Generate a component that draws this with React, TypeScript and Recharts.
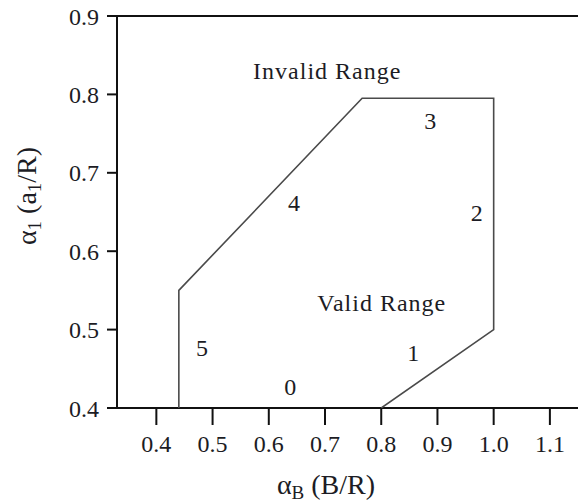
import { ComposedChart, Scatter, XAxis, YAxis, ReferenceLine } from 'recharts';

// Boundary of the valid range (walked in order, closed at the axis)
const boundary = [
  { x: 0.44, y: 0.4 },
  { x: 0.44, y: 0.55 },
  { x: 0.766, y: 0.795 },
  { x: 1.0, y: 0.795 },
  { x: 1.0, y: 0.5 },
  { x: 0.8, y: 0.4 },
];

// Region names and edge numbers
const regionLabels = [
  { x: 0.704, y: 0.83, text: 'Invalid Range' },
  { x: 0.801, y: 0.534, text: 'Valid Range' },
];
const edgeLabels = [
  { x: 0.638, y: 0.427, text: '0' },
  { x: 0.857, y: 0.47, text: '1' },
  { x: 0.97, y: 0.649, text: '2' },
  { x: 0.887, y: 0.766, text: '3' },
  { x: 0.645, y: 0.661, text: '4' },
  { x: 0.481, y: 0.476, text: '5' },
];

const xTicks = [0.4, 0.5, 0.6, 0.7, 0.8, 0.9, 1.0, 1.1];
const yTicks = [0.4, 0.5, 0.6, 0.7, 0.8, 0.9];

const FONT = 'Liberation Serif';
const INK = '#1c1c24';

const tickStyle = { fill: INK, fontSize: 24, fontFamily: FONT };

const Empty = () => <g />;

const textShape = (size: number, spacing: number) => (p: any) => (
  <text
    x={p.cx}
    y={p.cy}
    textAnchor="middle"
    dominantBaseline="central"
    fontFamily={FONT}
    fontSize={size}
    letterSpacing={spacing}
    fill={INK}
  >
    {p.payload.text}
  </text>
);

export default function App() {
  return (
    <div style={{ position: 'absolute', left: 0, top: 0, background: '#fff' }}>
      <ComposedChart width={578} height={504} margin={{ top: 16, right: 0, bottom: 0, left: 0 }}>
        <XAxis
          type="number"
          dataKey="x"
          domain={[0.33, 1.15]}
          ticks={xTicks}
          allowDataOverflow
          tickFormatter={(v: number) => v.toFixed(1)}
          tick={tickStyle}
          tickSize={17}
          tickMargin={10}
          height={96}
          axisLine={{ stroke: '#111', strokeWidth: 2 }}
          tickLine={{ stroke: '#111', strokeWidth: 2 }}
          label={{
            content: () => (
              <text x={326} y={494} textAnchor="middle" fontFamily={FONT} fontSize={28} fill={INK}>
                <tspan>α</tspan>
                <tspan fontSize={19} dy={5}>B</tspan>
                <tspan dy={-5}> (B/R)</tspan>
              </text>
            ),
          }}
        />
        <YAxis
          type="number"
          dataKey="y"
          domain={[0.4, 0.9]}
          ticks={yTicks}
          allowDataOverflow
          tickFormatter={(v: number) => v.toFixed(1)}
          tick={tickStyle}
          tickSize={10}
          tickMargin={8}
          width={117}
          axisLine={{ stroke: '#111', strokeWidth: 2 }}
          tickLine={{ stroke: '#111', strokeWidth: 2 }}
          label={{
            content: () => (
              <text
                x={0}
                y={0}
                transform="translate(36,196) rotate(-90)"
                textAnchor="middle"
                fontFamily={FONT}
                fontSize={28}
                fill={INK}
              >
                <tspan>α</tspan>
                <tspan fontSize={19} dy={5}>1</tspan>
                <tspan dy={-5}> (a</tspan>
                <tspan fontSize={19} dy={5}>1</tspan>
                <tspan dy={-5}>/R)</tspan>
              </text>
            ),
          }}
        />
        <ReferenceLine y={0.9} stroke="#111" strokeWidth={2} />
        <Scatter
          data={boundary}
          line={{ stroke: '#4a4a4a', strokeWidth: 1.6 }}
          lineType="joint"
          shape={Empty}
          isAnimationActive={false}
        />
        <Scatter data={regionLabels} shape={textShape(24, 1)} isAnimationActive={false} />
        <Scatter data={edgeLabels} shape={textShape(24, 0)} isAnimationActive={false} />
      </ComposedChart>
    </div>
  );
}
